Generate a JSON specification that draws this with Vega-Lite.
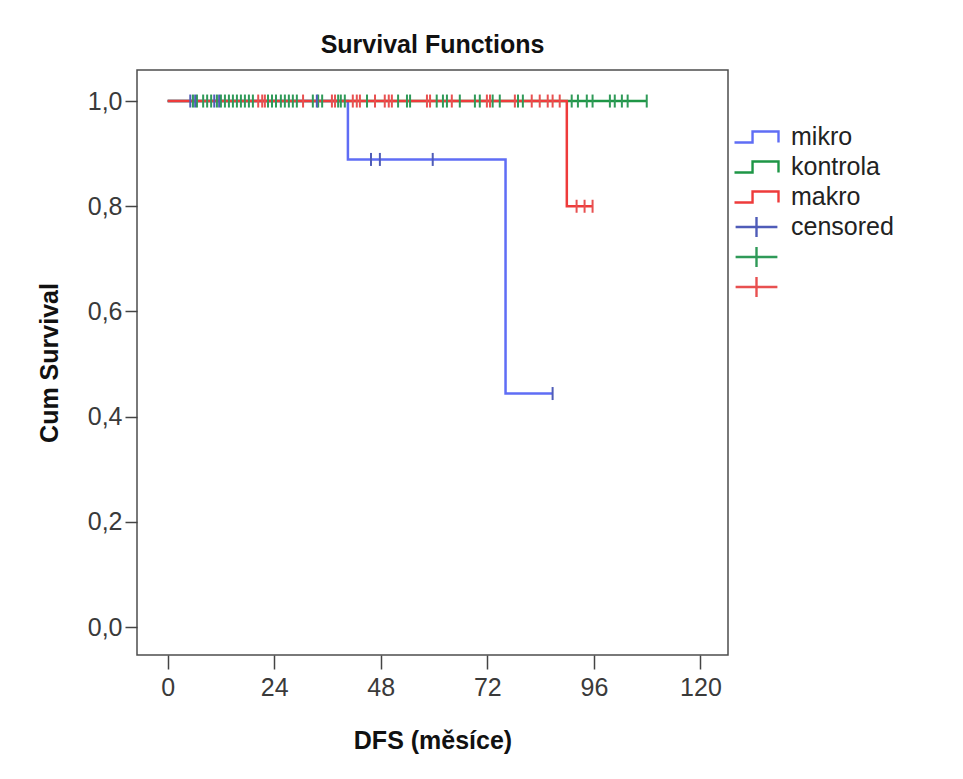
{
  "$schema": "https://vega.github.io/schema/vega-lite/v6.json",
  "autosize": {"type": "none"},
  "padding": {"left": 137, "top": 70, "right": 235, "bottom": 124},
  "width": 591,
  "height": 585,
  "background": "white",
  "title": {"text": "Survival Functions", "anchor": "middle", "font": "Liberation Sans", "fontSize": 25, "fontWeight": "bold", "color": "#111", "offset": 12},
  "config": {
    "view": {"stroke": "#4d4d4d", "strokeWidth": 1.5},
    "axis": {"grid": false, "domain": false, "labelFont": "Liberation Sans", "labelFontSize": 25, "labelColor": "#3a3a3a", "tickColor": "#444", "tickWidth": 1.5, "titleFont": "Liberation Sans", "titleFontSize": 25, "titleFontWeight": "bold", "titleColor": "#111"}
  },
  "datasets": {
    "curves": [
      {"g": "mikro", "t": 0, "s": 1},
      {"g": "mikro", "t": 40.6, "s": 0.889},
      {"g": "mikro", "t": 76.1, "s": 0.444},
      {"g": "mikro", "t": 86.7, "s": 0.444},
      {"g": "kontrola", "t": 0, "s": 1},
      {"g": "kontrola", "t": 107.9, "s": 1},
      {"g": "makro", "t": 0, "s": 1},
      {"g": "makro", "t": 89.9, "s": 0.8},
      {"g": "makro", "t": 95.7, "s": 0.8}
    ],
    "censored": [
      {"g": "c_kontrola", "t": 5.7, "s": 1}, {"g": "c_kontrola", "t": 6.6, "s": 1}, {"g": "c_kontrola", "t": 8.0, "s": 1}, {"g": "c_kontrola", "t": 8.9, "s": 1},
      {"g": "c_kontrola", "t": 9.8, "s": 1}, {"g": "c_kontrola", "t": 11.1, "s": 1}, {"g": "c_kontrola", "t": 12.0, "s": 1}, {"g": "c_kontrola", "t": 12.9, "s": 1},
      {"g": "c_kontrola", "t": 13.8, "s": 1}, {"g": "c_kontrola", "t": 14.7, "s": 1}, {"g": "c_kontrola", "t": 15.6, "s": 1}, {"g": "c_kontrola", "t": 16.5, "s": 1},
      {"g": "c_kontrola", "t": 17.4, "s": 1}, {"g": "c_kontrola", "t": 18.3, "s": 1}, {"g": "c_kontrola", "t": 19.2, "s": 1}, {"g": "c_kontrola", "t": 22.6, "s": 1},
      {"g": "c_kontrola", "t": 23.5, "s": 1}, {"g": "c_kontrola", "t": 24.4, "s": 1}, {"g": "c_kontrola", "t": 25.5, "s": 1}, {"g": "c_kontrola", "t": 26.4, "s": 1},
      {"g": "c_kontrola", "t": 27.3, "s": 1}, {"g": "c_kontrola", "t": 28.2, "s": 1}, {"g": "c_kontrola", "t": 29.1, "s": 1}, {"g": "c_kontrola", "t": 32.7, "s": 1},
      {"g": "c_kontrola", "t": 33.9, "s": 1}, {"g": "c_kontrola", "t": 34.8, "s": 1}, {"g": "c_kontrola", "t": 38.4, "s": 1}, {"g": "c_kontrola", "t": 39.0, "s": 1},
      {"g": "c_kontrola", "t": 39.9, "s": 1}, {"g": "c_kontrola", "t": 44.9, "s": 1}, {"g": "c_kontrola", "t": 51.9, "s": 1}, {"g": "c_kontrola", "t": 53.9, "s": 1},
      {"g": "c_kontrola", "t": 54.6, "s": 1}, {"g": "c_kontrola", "t": 60.6, "s": 1}, {"g": "c_kontrola", "t": 62.0, "s": 1}, {"g": "c_kontrola", "t": 62.9, "s": 1},
      {"g": "c_kontrola", "t": 65.8, "s": 1}, {"g": "c_kontrola", "t": 69.2, "s": 1}, {"g": "c_kontrola", "t": 70.3, "s": 1}, {"g": "c_kontrola", "t": 73.2, "s": 1},
      {"g": "c_kontrola", "t": 74.8, "s": 1}, {"g": "c_kontrola", "t": 78.9, "s": 1}, {"g": "c_kontrola", "t": 80.0, "s": 1}, {"g": "c_kontrola", "t": 91.0, "s": 1},
      {"g": "c_kontrola", "t": 92.4, "s": 1}, {"g": "c_kontrola", "t": 94.4, "s": 1}, {"g": "c_kontrola", "t": 95.7, "s": 1}, {"g": "c_kontrola", "t": 99.6, "s": 1},
      {"g": "c_kontrola", "t": 100.7, "s": 1}, {"g": "c_kontrola", "t": 102.3, "s": 1}, {"g": "c_kontrola", "t": 103.6, "s": 1}, {"g": "c_kontrola", "t": 107.9, "s": 1},
      {"g": "c_makro", "t": 20.4, "s": 1}, {"g": "c_makro", "t": 21.3, "s": 1}, {"g": "c_makro", "t": 21.9, "s": 1}, {"g": "c_makro", "t": 30.5, "s": 1},
      {"g": "c_makro", "t": 37.0, "s": 1}, {"g": "c_makro", "t": 37.7, "s": 1}, {"g": "c_makro", "t": 41.7, "s": 1}, {"g": "c_makro", "t": 42.6, "s": 1},
      {"g": "c_makro", "t": 43.3, "s": 1}, {"g": "c_makro", "t": 46.7, "s": 1}, {"g": "c_makro", "t": 48.9, "s": 1}, {"g": "c_makro", "t": 49.8, "s": 1},
      {"g": "c_makro", "t": 50.5, "s": 1}, {"g": "c_makro", "t": 58.4, "s": 1}, {"g": "c_makro", "t": 59.1, "s": 1}, {"g": "c_makro", "t": 64.0, "s": 1},
      {"g": "c_makro", "t": 71.9, "s": 1}, {"g": "c_makro", "t": 72.6, "s": 1}, {"g": "c_makro", "t": 78.2, "s": 1}, {"g": "c_makro", "t": 82.0, "s": 1},
      {"g": "c_makro", "t": 83.8, "s": 1}, {"g": "c_makro", "t": 85.6, "s": 1}, {"g": "c_makro", "t": 86.7, "s": 1}, {"g": "c_makro", "t": 88.3, "s": 1},
      {"g": "c_makro", "t": 92.1, "s": 0.8}, {"g": "c_makro", "t": 93.9, "s": 0.8}, {"g": "c_makro", "t": 95.7, "s": 0.8},
      {"g": "c_mikro", "t": 5.1, "s": 1}, {"g": "c_mikro", "t": 6.2, "s": 1}, {"g": "c_mikro", "t": 10.5, "s": 1}, {"g": "c_mikro", "t": 11.6, "s": 1},
      {"g": "c_mikro", "t": 33.6, "s": 1}, {"g": "c_mikro", "t": 45.8, "s": 0.889}, {"g": "c_mikro", "t": 47.8, "s": 0.889}, {"g": "c_mikro", "t": 59.7, "s": 0.889},
      {"g": "c_mikro", "t": 86.7, "s": 0.444}
    ]
  },
  "encoding": {
    "x": {"field": "t", "type": "quantitative", "scale": {"domain": [-6.9, 126.2], "nice": false, "zero": false},
      "axis": {"values": [0, 24, 48, 72, 96, 120], "tickSize": 14, "labelPadding": 6, "title": "DFS (měsíce)", "titlePadding": 28}},
    "y": {"field": "s", "type": "quantitative", "scale": {"domain": [-0.053, 1.059], "nice": false, "zero": false},
      "axis": {"values": [0, 0.2, 0.4, 0.6, 0.8, 1.0], "format": ".1f", "labelExpr": "replace(datum.label, '.', ',')", "tickSize": 12, "labelPadding": 3, "title": "Cum Survival", "titlePadding": 25}},
    "color": {"field": "g", "type": "nominal",
      "scale": {"domain": ["mikro", "kontrola", "makro", "c_mikro", "c_kontrola", "c_makro"], "range": ["#5f6df5", "#1e9646", "#ee3b3b", "#4f5cb8", "#2f9a58", "#e85050"]},
      "legend": {"orient": "none", "legendX": 596, "legendY": 52, "title": null, "padding": 0, "symbolSize": 1936, "rowPadding": 0, "clipHeight": 30, "labelOffset": 11,
        "symbolStrokeWidth": 2.4, "symbolOpacity": 1,
        "labelFont": "Liberation Sans", "labelFontSize": 25, "labelColor": "#222",
        "labelExpr": "datum.value == 'c_mikro' ? 'censored' : (indexof(datum.value, 'c_') == 0 ? '' : datum.value)"}}
  },
  "layer": [
    {"data": {"name": "curves"}, "transform": [{"filter": "datum.g == 'mikro'"}], "mark": {"type": "line", "interpolate": "step-after", "strokeWidth": 2.5}},
    {"data": {"name": "curves"}, "transform": [{"filter": "datum.g == 'kontrola'"}], "mark": {"type": "line", "interpolate": "step-after", "strokeWidth": 2.5}},
    {"data": {"name": "curves"}, "transform": [{"filter": "datum.g == 'makro'"}], "mark": {"type": "line", "interpolate": "step-after", "strokeWidth": 2.5}},
    {"data": {"name": "censored"}, "mark": {"type": "point", "shape": "M0,-1V1", "filled": false, "size": 169, "strokeWidth": 2, "opacity": 1}},
    {"data": {"name": "censored"}, "mark": {"type": "point", "filled": false, "opacity": 0},
      "encoding": {"shape": {"field": "g", "type": "nominal",
        "scale": {"domain": ["mikro", "kontrola", "makro", "c_mikro", "c_kontrola", "c_makro"],
          "range": ["M-1,0.25H-0.18V-0.25H1V0.25", "M-1,0.25H-0.18V-0.25H1V0.25", "M-1,0.25H-0.18V-0.25H1V0.25", "M-0.95,0H0.95M0,-0.45V0.45", "M-0.95,0H0.95M0,-0.45V0.45", "M-0.95,0H0.95M0,-0.45V0.45"]}}}}
  ]
}
